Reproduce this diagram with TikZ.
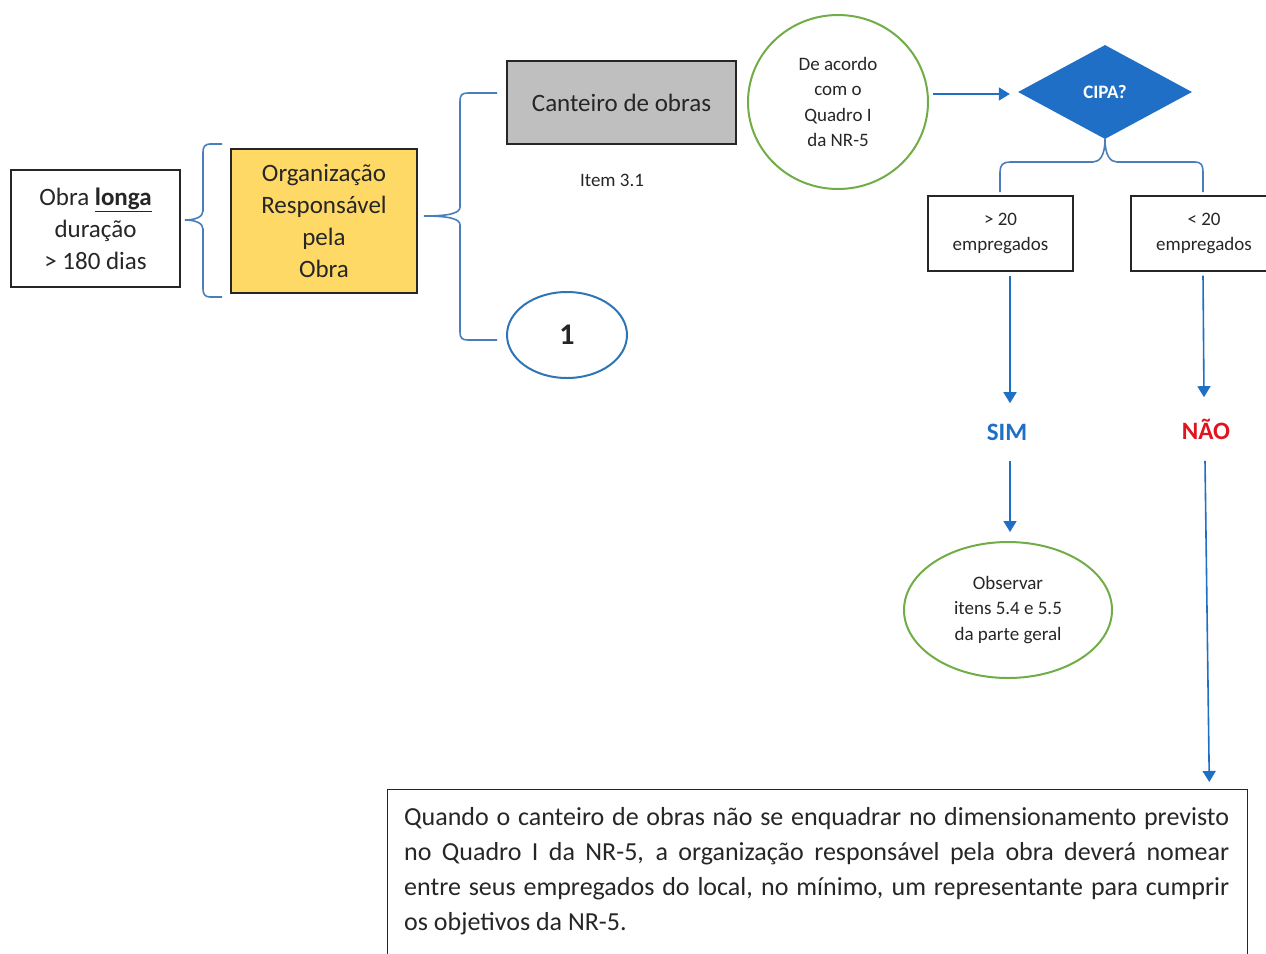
\documentclass[tikz,border=0pt]{standalone}
\usepackage{fontspec}
\setmainfont{Carlito}
\usetikzlibrary{shapes.geometric,arrows.meta,calc}
\definecolor{ink}{HTML}{262626}
\definecolor{gold}{HTML}{FFD966}
\definecolor{greybox}{HTML}{BFBFBF}
\definecolor{leaf}{HTML}{70AD47}
\definecolor{sea}{HTML}{2E75B6}
\definecolor{royal}{HTML}{1F6FC6}
\definecolor{bracecol}{HTML}{4A7EBB}
\definecolor{alarm}{HTML}{E0141E}
\begin{document}
\begin{tikzpicture}[x=1pt,y=-1pt,
  box/.style={draw=ink, line width=1.3pt, align=center, text=ink, inner sep=0pt},
  big/.style={font=\fontsize{25}{32}\selectfont},
  small/.style={font=\fontsize{19}{25.5}\selectfont},
  arr/.style={draw=royal, line width=1.6pt, -{Triangle[width=13pt,length=11pt]}},
  bracket/.style={draw=bracecol, line width=1.6pt},
  ring/.style={ellipse, draw=leaf, line width=2pt, align=center, text=ink, inner sep=0pt},
  verdict/.style={font=\fontsize{25}{30}\selectfont\bfseries},
]
\useasboundingbox (0,0) rectangle (1266,953);

% left column
\node[box, big, minimum width=169, minimum height=117] (longa) at (95.5,228.5)
  {Obra \underline{\textbf{longa}}\\duração\\> 180 dias};
\node[box, big, fill=gold, minimum width=186, minimum height=144] (org) at (324,221)
  {Organização\\Responsável\\pela\\Obra};

% site branch
\node[box, big, fill=greybox, minimum width=229, minimum height=83] (cant) at (621.5,102.5)
  {Canteiro de obras};
\node[text=ink, font=\fontsize{19}{24}\selectfont] (item) at (612,180) {Item 3.1};
\node[ellipse, draw=sea, line width=2pt, minimum width=120, minimum height=86,
      font=\fontsize{30}{36}\selectfont\bfseries, text=ink] (one) at (567,335) {1};
\node[ring, small, minimum width=180, minimum height=174] (quadro) at (838,102)
  {De acordo\\com o\\Quadro I\\da NR-5};

% decision
\node[diamond, fill=royal, minimum width=174, minimum height=94, aspect=1.85, inner sep=0pt,
      text=white, font=\fontsize{19}{24}\selectfont\bfseries] (cipa) at (1105,92) {CIPA?};
\node[box, small, minimum width=145, minimum height=75] (gt) at (1000.5,233.5) {> 20\\empregados};
\node[box, small, minimum width=146, minimum height=75] (lt) at (1204,233.5) {< 20\\empregados};
\node[verdict, text=royal] (sim) at (1007,432) {SIM};
\node[verdict, text=alarm] (nao) at (1206,429) {NÃO};
\node[ring, small, minimum width=208, minimum height=136] (obs) at (1008,610)
  {Observar\\itens 5.4 e 5.5\\da parte geral};

% note at the bottom
\node[draw=ink, line width=1.3pt, minimum width=860, minimum height=200, anchor=north west,
      inner sep=0pt] (note) at (387,789) {};
\node[anchor=north west, text width=825, align=justify, inner sep=0pt, text=ink,
      font=\fontsize{26}{35}\selectfont] (notetext) at (404,807)
  {Quando o canteiro de obras não se enquadrar no dimensionamento previsto\linebreak
   no Quadro I da NR-5, a organização responsável pela obra deverá nomear\linebreak
   entre seus empregados do local, no mínimo, um representante para cumprir\linebreak
   os objetivos da NR-5.};

% braces
\draw[bracket] (222,144) -- (210,144) .. controls (205,144) and (203,147) .. (203,152)
  -- (203,211) .. controls (203,217) and (195,220) .. (185,220)
  .. controls (195,220) and (203,223) .. (203,229)
  -- (203,289) .. controls (203,294) and (205,297) .. (210,297) -- (222,297);
\draw[bracket] (497,93) -- (468,93) .. controls (462,93) and (460,95) .. (460,101)
  -- (460,207) .. controls (460,213) and (450,216) .. (424,216)
  .. controls (450,216) and (460,219) .. (460,225)
  -- (460,332) .. controls (460,338) and (462,340) .. (468,340) -- (497,340);
\draw[bracket] (1000,192) -- (1000,172) .. controls (1000,165) and (1003,162) .. (1010,162)
  -- (1093,162) .. controls (1100,162) and (1105,155) .. (1105,139)
  .. controls (1105,155) and (1110,162) .. (1117,162)
  -- (1195,162) .. controls (1201,162) and (1203,165) .. (1203,172) -- (1203,192);

% arrows
\draw[arr] ($(quadro.east |- cipa.west)+(4,2)$) -- ($(cipa.west)+(-8,2)$);
\draw[arr] ($(gt.south -| sim.north)+(3,4)$) -- ($(sim.north)+(3,-17)$);
\draw[arr] ($(sim.south)+(3,17)$) -- ($(obs.north)+(2,-9)$);
\draw[arr] ($(lt.south -| nao.north)+(-3,4)$) -- ($(nao.north)+(-2,-18)$);
\draw[arr] ($(nao.south)+(-1,18)$) -- ($(note.north east)+(-39,-7)$);
\end{tikzpicture}
\end{document}
